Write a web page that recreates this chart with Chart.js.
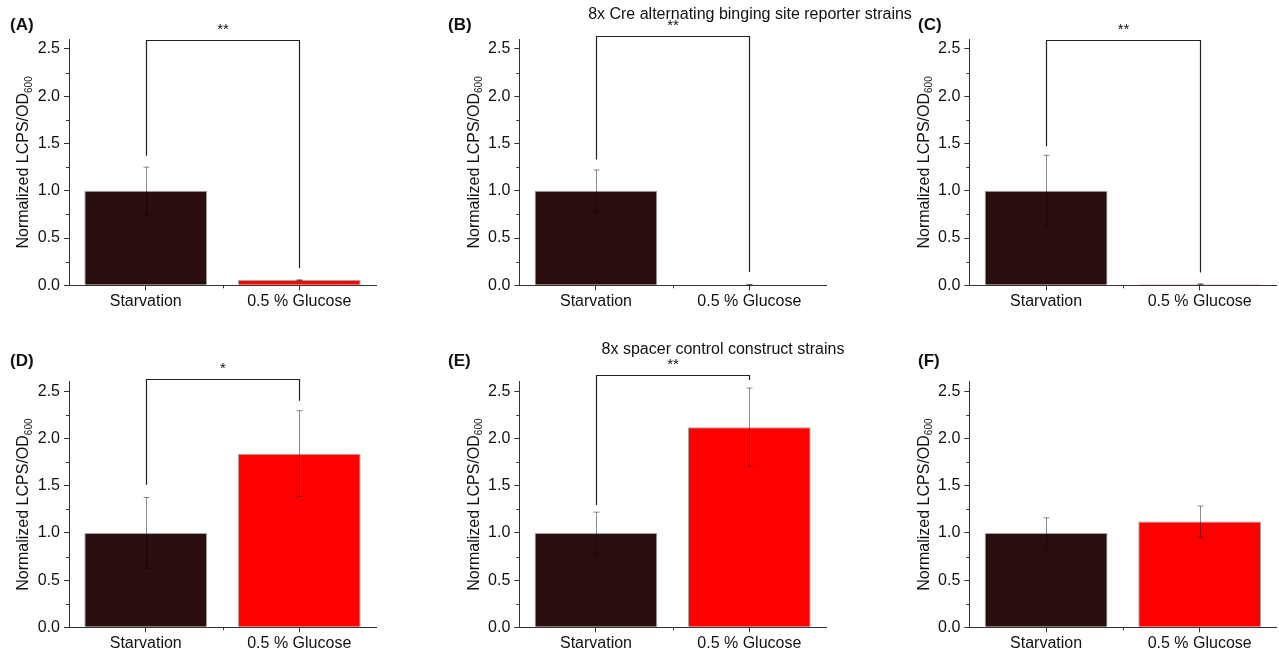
<!DOCTYPE html>
<html><head><meta charset="utf-8">
<script src="https://cdn.jsdelivr.net/npm/chart.js@4"></script>
<style>
body{margin:0;background:#fff;width:1279px;height:650px;overflow:hidden;position:relative;font-family:"Liberation Sans",Arial,sans-serif;}
canvas{position:absolute;left:0;top:0;}
.lbl{position:absolute;font-weight:bold;font-size:17px;color:#111;line-height:20px;}
.ttl{position:absolute;font-size:16px;color:#111;transform:translateX(-50%);white-space:nowrap;line-height:18px;}
</style></head><body>
<script>
// ---- data ----
const categories = ['Starvation', '0.5 % Glucose'];
const yTickValues = [0, 0.5, 1.0, 1.5, 2.0, 2.5];
const yMinorValues = [0.25, 0.75, 1.25, 1.75, 2.25];

const meanA = [1.00, 0.055];  const errA = [0.25, 0.004];
const meanB = [1.00, 0.006];  const errB = [0.22, 0.003];
const meanC = [1.00, 0.012];  const errC = [0.375, 0.004];
const meanD = [1.00, 1.84];   const errD = [0.375, 0.455];
const meanE = [1.00, 2.12];   const errE = [0.22, 0.415];
const meanF = [1.00, 1.12];   const errF = [0.16, 0.165];

// significance brackets: [left leg bottom, right leg bottom, top]
const bracketA = [1.37, 0.18, 2.60];   const starsA = '**';
const bracketB = [1.33, 0.14, 2.64];   const starsB = '**';
const bracketC = [1.47, 0.135, 2.60];  const starsC = '**';
const bracketD = [1.51, 2.40, 2.63];   const starsD = '*';
const bracketE = [1.295, 2.62, 2.676]; const starsE = '**';

const panelLabels = ['(A)', '(B)', '(C)', '(D)', '(E)', '(F)'];
const titleTop = '8x Cre alternating binging site reporter strains';
const titleBottom = '8x spacer control construct strains';
const yTitle = 'Normalized LCPS/OD';
const yTitleSub = '600';

// ---- style / layout ----
const FF = '"Liberation Sans", Arial, sans-serif';
const AX = '#333';
const barColors = ['#2a0d0d', '#ff0000'];
const Y_W = 60;

const panels = [
  {mean: meanA, err: errA, br: bracketA, st: starsA, left: 69,    right: 376,    top: 39.5,  bottom: 285.3, lx: 10,  ly: 15},
  {mean: meanB, err: errB, br: bracketB, st: starsB, left: 519.3, right: 826,    top: 39.5,  bottom: 285.3, lx: 448, ly: 15},
  {mean: meanC, err: errC, br: bracketC, st: starsC, left: 969.3, right: 1276.5, top: 39.5,  bottom: 285.3, lx: 918, ly: 15},
  {mean: meanD, err: errD, br: bracketD, st: starsD, left: 69,    right: 376,    top: 381.9, bottom: 627.3, lx: 10,  ly: 351},
  {mean: meanE, err: errE, br: bracketE, st: starsE, left: 519.3, right: 826,    top: 381.9, bottom: 627.3, lx: 448, ly: 351},
  {mean: meanF, err: errF, br: null,     st: null,   left: 969.3, right: 1276.5, top: 381.9, bottom: 627.3, lx: 918, ly: 351}
];

const decor = {
  id: 'decor',
  afterDatasetsDraw(chart, args, o) {
    const ctx = chart.ctx, x = chart.scales.x, y = chart.scales.y;
    ctx.save();
    ctx.strokeStyle = 'rgba(0,0,0,0.45)';
    ctx.lineWidth = 1;
    o.mean.forEach((m, i) => {
      const px = Math.round(x.getPixelForValue(i)) + 0.5;
      const t = y.getPixelForValue(m + o.err[i]);
      const b = y.getPixelForValue(Math.max(0, m - o.err[i]));
      ctx.beginPath();
      ctx.moveTo(px, t); ctx.lineTo(px, b);
      ctx.moveTo(px - 3, t); ctx.lineTo(px + 3, t);
      ctx.moveTo(px - 3, b); ctx.lineTo(px + 3, b);
      ctx.stroke();
    });
    ctx.restore();
  },
  afterDraw(chart, args, o) {
    const ctx = chart.ctx, x = chart.scales.x, y = chart.scales.y, ca = chart.chartArea;
    ctx.save();
    ctx.strokeStyle = AX; ctx.lineWidth = 1;
    ctx.beginPath();
    yMinorValues.forEach(v => {
      const py = Math.round(y.getPixelForValue(v)) + 0.5;
      ctx.moveTo(ca.left - 3, py); ctx.lineTo(ca.left, py);
    });
    const mx = Math.round((x.getPixelForValue(0) + x.getPixelForValue(1)) / 2) + 0.5;
    ctx.moveTo(mx, ca.bottom); ctx.lineTo(mx, ca.bottom + 3);
    ctx.stroke();
    if (o.br) {
      const x0 = Math.round(x.getPixelForValue(0)) + 0.5, x1 = Math.round(x.getPixelForValue(1)) + 0.5;
      const yl = y.getPixelForValue(o.br[0]), yr = y.getPixelForValue(o.br[1]), yt = Math.round(y.getPixelForValue(o.br[2])) + 0.5;
      ctx.strokeStyle = '#222'; ctx.lineWidth = 1.2;
      ctx.beginPath();
      ctx.moveTo(x0, yl); ctx.lineTo(x0, yt); ctx.lineTo(x1, yt); ctx.lineTo(x1, yr);
      ctx.stroke();
      ctx.fillStyle = '#111';
      ctx.font = '15px ' + FF;
      ctx.textAlign = 'center'; ctx.textBaseline = 'middle';
      ctx.fillText(o.st, (x0 + x1) / 2, yt - 11);
    }
    ctx.translate(ca.left - 45, (ca.top + ca.bottom) / 2);
    ctx.rotate(-Math.PI / 2);
    ctx.fillStyle = '#111';
    ctx.textBaseline = 'middle'; ctx.textAlign = 'left';
    ctx.font = '16px ' + FF;
    const w1 = ctx.measureText(yTitle).width;
    ctx.font = '10px ' + FF;
    const w2 = ctx.measureText(yTitleSub).width;
    const start = -(w1 + w2) / 2;
    ctx.font = '16px ' + FF;
    ctx.fillText(yTitle, start, 0);
    ctx.font = '10px ' + FF;
    ctx.fillText(yTitleSub, start + w1, 5);
    ctx.restore();
  }
};

panels.forEach((p, k) => {
  const cv = document.createElement('canvas');
  cv.width = 1279; cv.height = 650;
  document.body.appendChild(cv);
  const xh = Math.min(34, 650 - p.bottom);
  new Chart(cv, {
    type: 'bar',
    data: {
      labels: categories,
      datasets: [{
        data: p.mean,
        backgroundColor: barColors,
        borderColor: 'rgba(0,0,0,0.35)',
        borderWidth: 1,
        barPercentage: 0.8,
        categoryPercentage: 1.0
      }]
    },
    options: {
      responsive: false, animation: false, devicePixelRatio: 1,
      layout: {padding: {left: p.left - Y_W, right: 1279 - p.right, top: p.top, bottom: 650 - p.bottom - xh}},
      plugins: {
        legend: {display: false}, tooltip: {enabled: false},
        decor: {mean: p.mean, err: p.err, br: p.br, st: p.st}
      },
      scales: {
        x: {
          grid: {display: true, drawOnChartArea: false, offset: false, tickLength: 5, color: AX},
          border: {display: true, color: AX, width: 1},
          ticks: {font: {size: 16, family: FF, lineHeight: 1.1}, color: '#111', padding: 2, maxRotation: 0},
          afterFit(s) { s.height = xh; }
        },
        y: {
          min: 0, max: 2.6,
          afterBuildTicks(s) { s.ticks = yTickValues.map(v => ({value: v})); },
          ticks: {font: {size: 16, family: FF}, color: '#111', padding: 4, callback: v => Number(v).toFixed(1)},
          grid: {display: true, drawOnChartArea: false, tickLength: 5, color: AX},
          border: {display: true, color: AX, width: 1},
          afterFit(s) { s.width = Y_W; }
        }
      }
    },
    plugins: [decor]
  });
  const d = document.createElement('div');
  d.className = 'lbl'; d.textContent = panelLabels[k];
  d.style.left = p.lx + 'px'; d.style.top = p.ly + 'px';
  document.body.appendChild(d);
});

[[titleTop, 750, 5], [titleBottom, 723, 340]].forEach(t => {
  const d = document.createElement('div');
  d.className = 'ttl'; d.textContent = t[0];
  d.style.left = t[1] + 'px'; d.style.top = t[2] + 'px';
  document.body.appendChild(d);
});
</script>
</body></html>
